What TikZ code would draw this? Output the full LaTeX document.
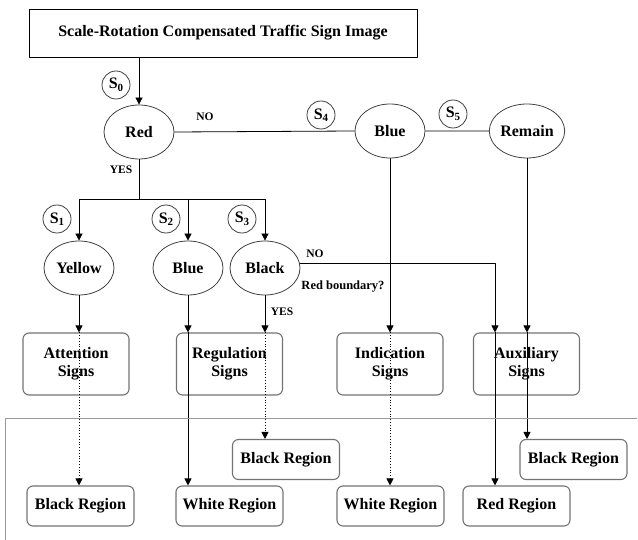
\documentclass[tikz,border=0pt]{standalone}
\usepackage{fontspec}
\setmainfont{Liberation Serif}
\usetikzlibrary{arrows.meta,shapes.geometric}
\newcommand{\stag}[1]{S\raisebox{-0.35ex}{\fontsize{11}{12}\selectfont#1}}
\begin{document}
\begin{tikzpicture}[x=1pt,y=-1pt,>={Triangle[length=7pt,width=7pt]},line join=round,
	font=\bfseries\fontsize{16}{18}\selectfont,
	every path/.style={line width=0.8pt},
	test/.style={ellipse,draw=black!75,minimum width=70pt,minimum height=54pt,inner sep=0pt},
	signbox/.style={draw=black!55,line width=1.1pt,rounded corners=6pt,minimum width=106pt,minimum height=62pt,align=center,inner sep=1pt},
	regbox/.style={draw=black!55,line width=1.1pt,rounded corners=6pt,minimum width=107pt,minimum height=40pt,inner sep=1pt},
	stage/.style={circle,draw=black!75,minimum size=28pt,inner sep=0pt},
	small/.style={font=\bfseries\fontsize{11.5}{12}\selectfont,inner sep=1pt}]
	\useasboundingbox (0,0) rectangle (638,540);
	% top level
	\node[draw,minimum width=388pt,minimum height=48pt] (image) at (223,33) {Scale-Rotation Compensated Traffic Sign Image};
	\node[test] (red) at (139,132) {Red};
	\node[test] (blue) at (390,131) {Blue};
	\node[test] (remain) at (527,131) {Remain};
	\node[test] (yellow) at (79,268) {Yellow};
	\node[test] (blueb) at (188,268) {Blue};
	\node[test] (black) at (265,268) {Black};
	\node[stage] (s0) at (116,85) {\stag{0}};
	\node[stage] (s1) at (57,219) {\stag{1}};
	\node[stage] (s2) at (166,219) {\stag{2}};
	\node[stage] (s3) at (242,219) {\stag{3}};
	\node[stage] (s4) at (321,115) {\stag{4}};
	\node[stage] (s5) at (453,114) {\stag{5}};
	% sign classes
	\node[signbox] (attention) at (76,364) {Attention\\Signs};
	\node[signbox] (regulation) at (229.5,364) {Regulation\\Signs};
	\node[signbox] (indication) at (390,364) {Indication\\Signs};
	\node[signbox] (auxiliary) at (526.5,364) {Auxiliary\\Signs};
	% regions
	\node[regbox] (blackreg1) at (80.5,506) {Black Region};
	\node[regbox] (whitereg1) at (229.5,506) {White Region};
	\node[regbox] (blackreg2) at (286,459.5) {Black Region};
	\node[regbox] (whitereg2) at (390.5,506) {White Region};
	\node[regbox] (redreg) at (516.5,506) {Red Region};
	\node[regbox] (blackreg3) at (573.5,459.5) {Black Region};
	% labels
	\node[small] (no1) at (205,117) {NO};
	\node[small] (yes1) at (121,170) {YES};
	\node[small] (no2) at (315,254) {NO};
	\node[small,font=\bfseries\fontsize{12.5}{13}\selectfont] (ask) at (343,287) {Red boundary?};
	\node[small] (yes2) at (282,312) {YES};
	\coordinate (fork) at (139,199);
	\coordinate (nodrop) at (495,0);
	% connectors
	\draw[->] (red.north |- image.south) -- (red.north);
	\draw (red.east) -- (blue.west) (blue.east) -- (remain.west);
	\draw (red.south) -- (fork);
	\draw (yellow.north |- fork) -- (black.north |- fork);
	\foreach \n in {yellow,blueb,black}
		\draw[->] (\n.north |- fork) -- (\n.north);
	\draw[->] (yellow.south) -- (yellow.south |- attention.north);
	\draw[->] (blueb.south) -- (blueb.south |- regulation.north);
	\draw[->] (black.south) -- (black.south |- regulation.north);
	\draw[->] ([yshift=5pt]black.east) -| (nodrop |- auxiliary.north);
	\draw[->] (blue.south) -- (indication.north);
	\draw[->] (remain.south) -- (remain.south |- auxiliary.north);
	% into the regions
	\draw[->,dotted] (yellow.south |- attention.north) -- (yellow.south |- blackreg1.north);
	\draw[->] (blueb.south |- regulation.north) -- (blueb.south |- whitereg1.north);
	\draw[->,dotted] (black.south |- regulation.north) -- (black.south |- blackreg2.north);
	\draw[->,dotted] (indication.north) -- (indication.north |- whitereg2.north);
	\draw[->] (nodrop |- auxiliary.north) -- (nodrop |- redreg.north);
	\draw[->] (remain.south |- auxiliary.north) -- (remain.south |- blackreg3.north);
	\draw[black!40,line width=1pt] (5,540) -- (5,418) -- (637,418);
\end{tikzpicture}
\end{document}
